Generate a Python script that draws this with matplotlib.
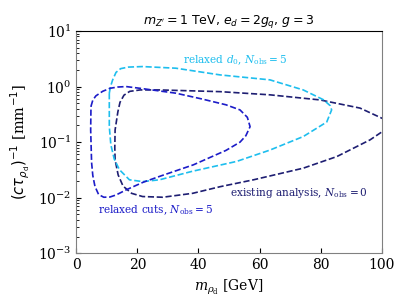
import matplotlib.pyplot as plt
import numpy as np

plt.rcParams['font.family'] = 'DejaVu Serif'
plt.rcParams['mathtext.fontset'] = 'dejavuserif'

# contour (m_rho in GeV, 1/(c tau) in 1/mm)
cuts_x = [4.8, 5.4, 6.4, 8.6, 11.0, 13.5, 16.3, 20.9, 32.6, 41.0, 49.0, 53.6, 56.0, 56.9, 55.5, 53.6, 49.0, 38.3, 28.0, 21.9, 16.5, 13.0, 11.0, 9.0, 7.3, 6.1, 5.4, 5.0, 4.7, 4.8]
cuts_y = [0.44, 0.57, 0.68, 0.82, 0.93, 0.98, 1.0, 0.93, 0.76, 0.60, 0.47, 0.38, 0.28, 0.19, 0.13, 0.10, 0.071, 0.039, 0.025, 0.019, 0.014, 0.0112, 0.0103, 0.0102, 0.0114, 0.016, 0.025, 0.043, 0.166, 0.44]

d0_x = [10.8, 11.2, 11.9, 13.0, 14.5, 17.0, 21.7, 32.6, 47.1, 63.4, 74.3, 80.9, 83.2, 83.6, 82.0, 74.3, 63.4, 52.5, 38.1, 27.2, 21.7, 17.4, 14.1, 12.4, 11.3, 10.8, 10.8]
d0_y = [0.76, 1.0, 1.32, 1.8, 2.1, 2.24, 2.29, 2.14, 1.62, 1.32, 0.87, 0.58, 0.45, 0.38, 0.23, 0.126, 0.072, 0.045, 0.030, 0.021, 0.0195, 0.021, 0.032, 0.05, 0.09, 0.19, 0.76]

exist_x = [104.0, 92.9, 79.8, 63.4, 47.1, 27.2, 20.9, 17.5, 15.6, 14.3, 13.6, 12.7, 12.6, 12.7, 13.7, 15.3, 18.1, 21.7, 28.3, 38.1, 47.1, 58.0, 74.3, 85.3, 96.2, 104.0]
exist_y = [0.214, 0.41, 0.575, 0.71, 0.81, 0.87, 0.87, 0.82, 0.70, 0.52, 0.35, 0.166, 0.08, 0.048, 0.0257, 0.0162, 0.012, 0.0105, 0.0102, 0.012, 0.0158, 0.021, 0.034, 0.055, 0.11, 0.214]

c_cuts = '#1c1cc8'
c_d0 = '#1ebeee'
c_exist = '#1e1e72'

fig = plt.figure(figsize=(4.11, 3.08), dpi=100)
ax = fig.add_axes([0.1857, 0.1776, 0.743, 0.7218])

ax.plot(exist_x, exist_y, '--', color=c_exist, lw=1.2)
ax.plot(d0_x, d0_y, '--', color=c_d0, lw=1.2)
ax.plot(cuts_x, cuts_y, '--', color=c_cuts, lw=1.2)

ax.set_yscale('log')
ax.set_xlim(0, 100)
ax.set_ylim(1e-3, 1e1)

ax.text(34.9, 3.0, r'relaxed $d_0$, $N_{\rm obs}=5$', color=c_d0, fontsize=7.6, va='center')
ax.text(50.3, 0.0123, r'existing analysis, $N_{\rm obs}=0$', color=c_exist, fontsize=7.6, va='center')
ax.text(7.1, 0.006, r'relaxed cuts, $N_{\rm obs}=5$', color=c_cuts, fontsize=7.6, va='center')

ax.set_title(r"$m_{Z'}=1$ TeV, $e_d=2g_q$, $g=3$", fontsize=9, family='DejaVu Sans',
             math_fontfamily='dejavusans', pad=5)
ax.set_xlabel(r'$m_{\rho_{\rm d}}$ [GeV]', fontsize=10)
ax.set_ylabel(r'$(c\tau_{\rho_{\rm d}})^{-1}$ [mm$^{-1}$]', fontsize=10.5,
              math_fontfamily='dejavusans')

ax.tick_params(which='both', direction='in', top=False, right=False, labelsize=10)
ax.tick_params(which='major', length=3.5)
ax.tick_params(which='minor', length=2)
for s in ['left', 'bottom', 'right']:
    ax.spines[s].set_color('gray')
ax.spines['top'].set_color('black')

plt.savefig('out.png')
